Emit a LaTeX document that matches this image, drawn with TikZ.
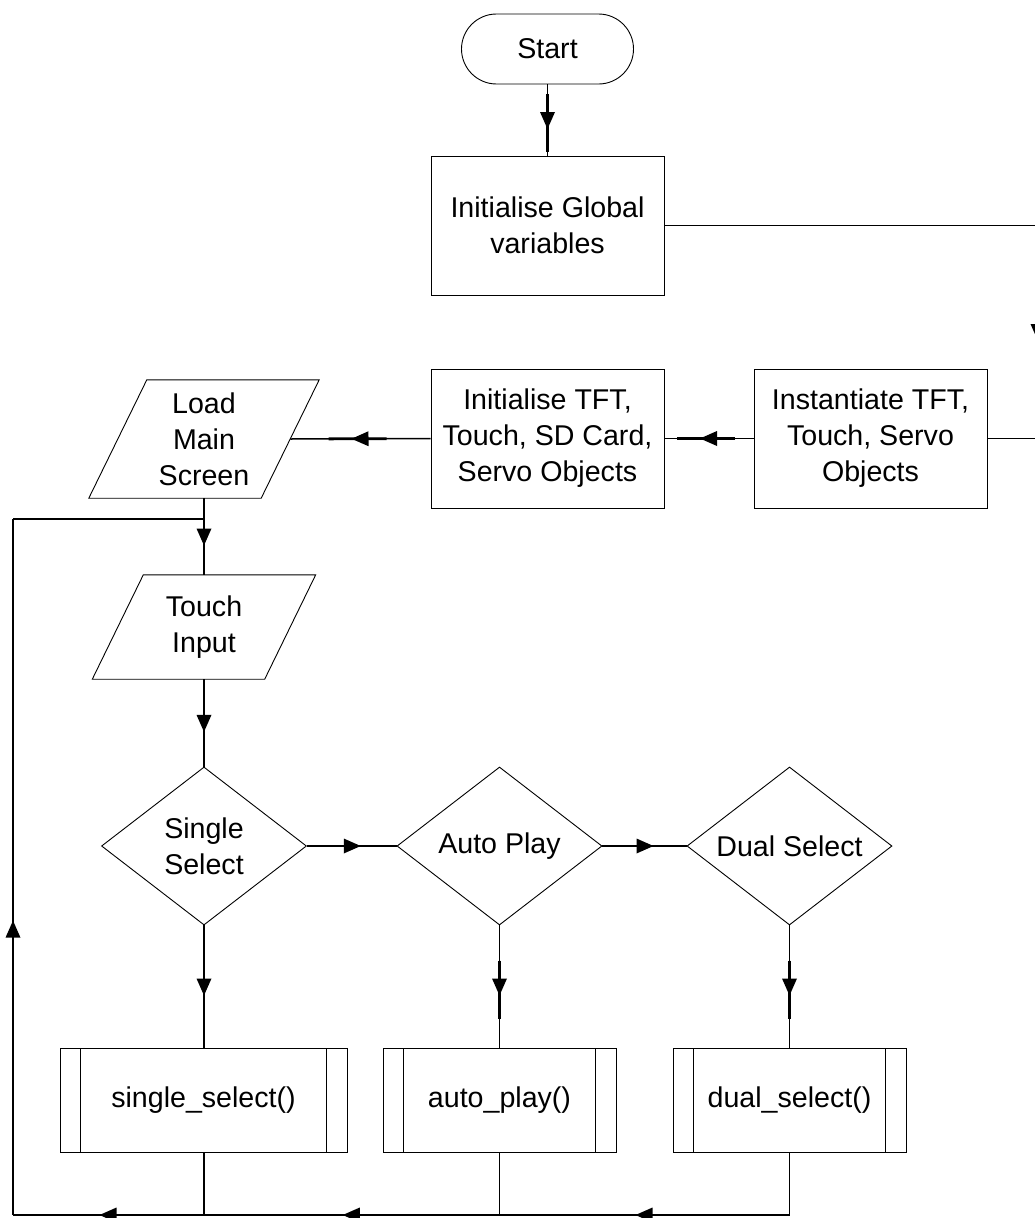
\documentclass[tikz,border=0pt]{standalone}
\usepackage{fontspec}
\setmainfont{Liberation Sans}
\usetikzlibrary{shapes.geometric,decorations.markings,calc}
\begin{document}
\begin{tikzpicture}[x=1pt,y=-1pt,
  every node/.style={font=\fontsize{28.6}{36}\selectfont, align=center, inner sep=0pt},
  shapeline/.style={draw=black, line width=0.9pt},
  term/.style={shapeline, rounded corners=35pt, minimum width=172pt, minimum height=70pt},
  box/.style={shapeline, minimum width=233pt, minimum height=139pt},
  iobox/.style={draw=none},
  decision/.style={shapeline, diamond, aspect=1.3, minimum width=205pt, minimum height=158pt},
  proc/.style={shapeline, minimum height=104pt,
    path picture={
      \draw[line width=0.9pt] ([xshift=20.5pt]path picture bounding box.north west) -- ([xshift=20.5pt]path picture bounding box.south west);
      \draw[line width=0.9pt] ([xshift=-20.5pt]path picture bounding box.north east) -- ([xshift=-20.5pt]path picture bounding box.south east);
    }},
  conn/.style={line width=1.5pt},
  midarrow/.style={postaction={decorate, decoration={markings, mark=at position #1 with {
      \draw[line width=2.8pt] (-26pt,0pt) -- (32pt,0pt);
      \fill (9pt,0pt) -- (-8pt,7.5pt) -- (-8pt,-7.5pt) -- cycle;}}}},
  midarrow/.default=0.5
]
\useasboundingbox (0,0) rectangle (1035,1218);
\clip (0,0) rectangle (1035,1218);

% nodes
\node[term] (start) at (547.5,49) {Start};
\node[box] (ig) at (547.5,225.5) {Initialise Global\\variables};
\node[box] (inst) at (870.5,438.5) {Instantiate TFT,\\Touch, Servo\\Objects};
\node[box] (itft) at (547.5,438.5) {Initialise TFT,\\Touch, SD Card,\\Servo Objects};
\node[iobox, minimum width=230pt, minimum height=118pt] (lm) at (204,439) {Load\\Main\\Screen};
\draw[shapeline] ($(lm.north west)+(58pt,0pt)$) -- (lm.north east) -- ($(lm.south east)+(-58pt,0pt)$) -- (lm.south west) -- cycle;
\node[iobox, minimum width=223pt, minimum height=104pt] (ti) at (204,627) {Touch\\Input};
\draw[shapeline] ($(ti.north west)+(51pt,0pt)$) -- (ti.north east) -- ($(ti.south east)+(-51pt,0pt)$) -- (ti.south west) -- cycle;
\node[decision] (ss) at (204,846) {Single\\Select};
\node[decision] (ap) at (499.5,846) {Auto Play};
\node[decision] (ds) at (789.5,846) {Dual Select};
\node[proc, minimum width=287pt] (fss) at (203.5,1100) {single\_select()};
\node[proc, minimum width=233pt] (fap) at (499.5,1100) {auto\_play()};
\node[proc, minimum width=233pt] (fds) at (789.5,1100) {dual\_select()};

\coordinate (lmR) at ($(lm.east)+(-28.75pt,0pt)$);
\coordinate (rc) at (1038,0);
\coordinate (bot) at (0,1215);
\coordinate (bl) at (13,1215);
\coordinate (tl) at (13,519);

% connectors
\draw[conn, midarrow] (start.south) -- (ig.north);
\draw[conn] (ig.east) -- (ig.east -| rc);
\draw[conn, midarrow] (ig.east -| rc) -- (inst.east -| rc);
\draw[conn] (inst.east -| rc) -- (inst.east);
\draw[conn, midarrow] (inst.west) -- (itft.east);
\draw[conn, midarrow] (itft.west) -- (lmR);
\draw[conn, midarrow] (lm.south) -- (ti.north);
\draw[conn, midarrow] (ti.south) -- (ss.north);
\draw[conn, midarrow] (ss.east) -- (ap.west);
\draw[conn, midarrow] (ap.east) -- (ds.west);
\draw[conn, midarrow] (ss.south) -- (ss.south |- fss.north);
\draw[conn, midarrow] (ap.south) -- (fap.north);
\draw[conn, midarrow] (ds.south) -- (fds.north);

\draw[conn] (fds.south) -- (fds.south |- bot);
\draw[conn, midarrow] (fds.south |- bot) -- (fap.south |- bot);
\draw[conn] (fap.south) -- (fap.south |- bot);
\draw[conn, midarrow] (fap.south |- bot) -- (ss.south |- bot);
\draw[conn] (ss.south |- fss.south) -- (ss.south |- bot);
\draw[conn, midarrow] (ss.south |- bot) -- (bl);
\draw[conn, midarrow=0.41] (bl) -- (tl);
\draw[conn] (tl) -- (lm.south |- tl);
\end{tikzpicture}
\end{document}
